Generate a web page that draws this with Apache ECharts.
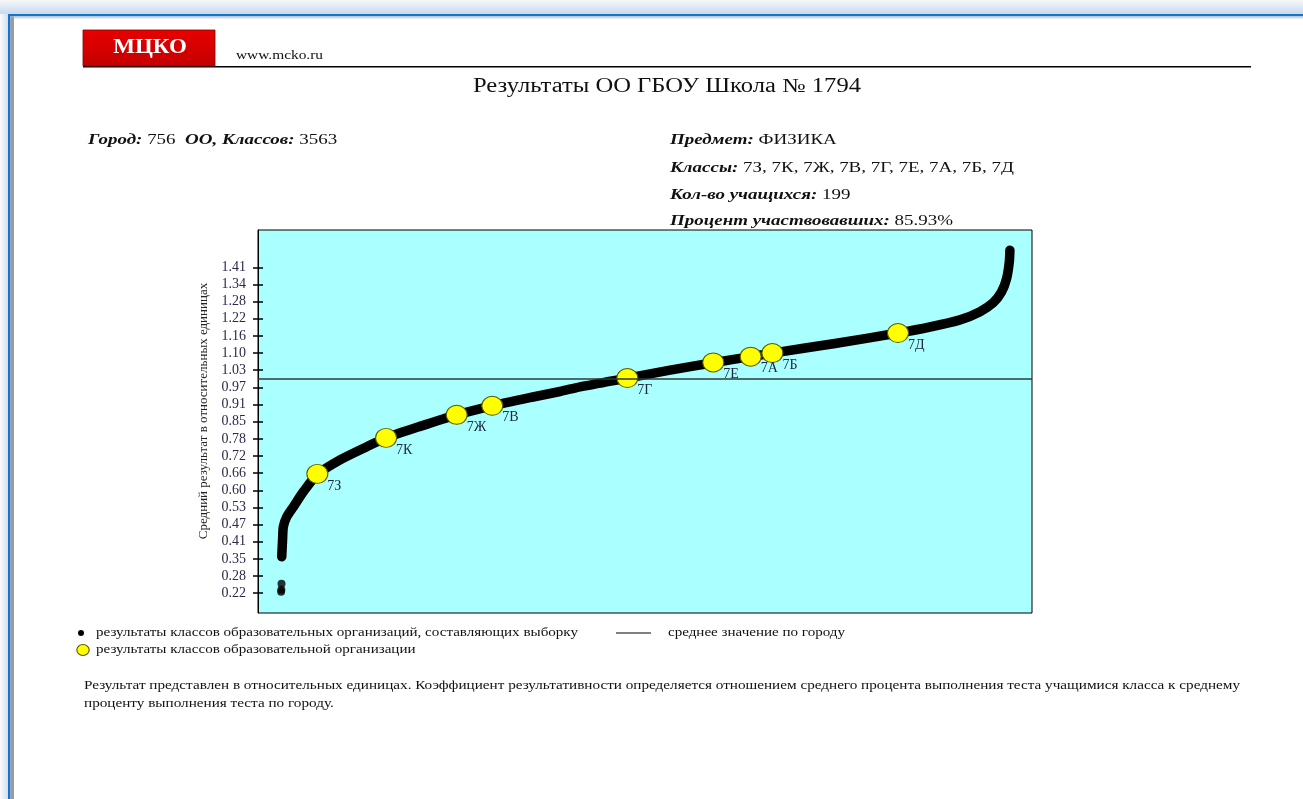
<!DOCTYPE html>
<html><head><meta charset="utf-8">
<script src="https://cdn.jsdelivr.net/npm/echarts@6/dist/echarts.min.js"></script>
<style>html,body{margin:0;padding:0;background:#fff;overflow:hidden}#c{width:1303px;height:799px}</style>
</head><body><div id="c"></div>
<script>
// ---- data ----
const yTickLabels = ['0.22','0.28','0.35','0.41','0.47','0.53','0.60','0.66','0.72','0.78','0.85','0.91','0.97','1.03','1.10','1.16','1.22','1.28','1.34','1.41'];
const yTickStart = 0.22;
const yTickStep = 0.0625;
// city classes, sorted by result (rank of class, relative result)
const curveRank  = [4, 8, 12, 29, 61, 110, 178, 289, 420, 514, 680, 859, 1033, 1232, 1364, 1462, 1693, 1902, 2113, 2296, 2402, 2708, 3016, 3172, 3319, 3417, 3481, 3522, 3547, 3560, 3563];
const curveValue = [0.353, 0.414, 0.463, 0.499, 0.535, 0.590, 0.653, 0.706, 0.754, 0.786, 0.828, 0.870, 0.903, 0.935, 0.955, 0.972, 1.004, 1.033, 1.060, 1.082, 1.095, 1.130, 1.168, 1.190, 1.216, 1.246, 1.278, 1.318, 1.367, 1.427, 1.470];
const outlierRank  = [1, 2, 3];
const outlierValue = [0.225, 0.233, 0.255];
// classes of the school
const schoolClasses = ['7З','7К','7Ж','7В','7Г','7Е','7А','7Б','7Д'];
const schoolRank    = [178, 514, 859, 1033, 1693, 2113, 2296, 2402, 3016];
const schoolValue   = [0.655, 0.786, 0.870, 0.903, 1.004, 1.061, 1.082, 1.095, 1.168];
const cityMean = 1.0;

// ---- helpers ----
const SERIF = '"Liberation Serif", "Times New Roman", serif';
const yTickValues = yTickLabels.map((_, i) => yTickStart + i * yTickStep);
const mctx = document.createElement('canvas').getContext('2d');
function fontStr(size, bi) { return (bi ? 'italic bold ' : '') + size + 'px ' + SERIF; }
function measure(segs, size) {
  let w = 0;
  segs.forEach(s => { mctx.font = fontStr(size, s[1]); w += mctx.measureText(s[0]).width; });
  return w;
}
function richText(segs) {
  return segs.map(s => s[1] ? '{b|' + s[0] + '}' : '{n|' + s[0] + '}').join('');
}
function txt(segs, x, y, size, scale, align, color) {
  return {
    type: 'text', x: x, y: y, scaleX: scale, z: 10,
    style: {
      text: richText(segs), align: align || 'left', verticalAlign: 'middle',
      fill: color || '#111', fontFamily: SERIF, fontSize: size,
      rich: {
        b: { fontFamily: SERIF, fontSize: size, fontStyle: 'italic', fontWeight: 'bold', fill: color || '#111' },
        n: { fontFamily: SERIF, fontSize: size, fill: color || '#111' }
      }
    }
  };
}

// header texts
const H = 15;
const hdrKlassy = [['Классы:', 1], [' 7З, 7К, 7Ж, 7В, 7Г, 7Е, 7А, 7Б, 7Д', 0]];
const hScale = 344 / measure(hdrKlassy, H);
const titleSegs = [['Результаты ОО ГБОУ Школа № 1794', 0]];
const tScale = 388 / measure(titleSegs, 20);
const leg1 = [['результаты классов образовательных организаций, составляющих выборку', 0]];
const L = 13;
const lScale = 482 / measure(leg1, L);
const foot1 = [['Результат представлен в относительных единицах. Коэффициент результативности определяется отношением среднего процента выполнения теста учащимися класса к среднему', 0]];
const fScale = 1156 / measure(foot1, L);
const www = [['www.mcko.ru', 0]];
const wScale = 87 / measure(www, 12);

const graphics = [
  // window frame
  { type: 'rect', z: 0, shape: { x: 0, y: 0, width: 1303, height: 14 },
    style: { fill: new echarts.graphic.LinearGradient(0, 0, 0, 1, [{ offset: 0, color: '#f7f7f7' }, { offset: 1, color: '#c6daef' }]) } },
  { type: 'rect', z: 0, shape: { x: 0, y: 14, width: 8, height: 785 },
    style: { fill: new echarts.graphic.LinearGradient(0, 0, 1, 0, [{ offset: 0, color: '#fbfbfb' }, { offset: 1, color: '#cfe0f2' }]) } },
  { type: 'rect', z: 1, shape: { x: 8, y: 14, width: 1295, height: 2.5 }, style: { fill: '#1673c9' } },
  { type: 'rect', z: 1, shape: { x: 8, y: 14, width: 2.5, height: 785 }, style: { fill: '#1673c9' } },
  { type: 'rect', z: 1, shape: { x: 10.5, y: 16.5, width: 1293, height: 2 }, style: { fill: '#d8d8d8' } },
  { type: 'rect', z: 1, shape: { x: 10.5, y: 16.5, width: 3.5, height: 783 }, style: { fill: '#9c9c9c' } },
  // header
  { type: 'rect', z: 2, shape: { x: 83, y: 66, width: 1168, height: 1.5 }, style: { fill: '#000' } },
  { type: 'rect', z: 3, shape: { x: 83, y: 30, width: 132, height: 36 },
    style: { fill: new echarts.graphic.LinearGradient(0, 0, 0, 1, [{ offset: 0, color: '#e80000' }, { offset: 1, color: '#c40000' }]), stroke: '#8a0000', lineWidth: 0.8 } },
  { type: 'text', x: 150, y: 48, z: 10, scaleX: 1.15,
    style: { text: 'МЦКО', align: 'center', verticalAlign: 'middle', fill: '#fff', fontFamily: SERIF, fontSize: 20, fontWeight: 'bold' } },
  txt(www, 236, 56, 12, wScale, 'left', '#111'),
  txt(titleSegs, 667, 87, 20, tScale, 'center', '#111'),
  txt([['Город:', 1], [' 756  ', 0], ['ОО, Классов:', 1], [' 3563', 0]], 88, 140, H, hScale),
  txt([['Предмет:', 1], [' ФИЗИКА', 0]], 670, 140, H, hScale),
  txt(hdrKlassy, 670, 168, H, hScale),
  txt([['Кол-во учащихся:', 1], [' 199', 0]], 670, 195, H, hScale),
  txt([['Процент участвовавших:', 1], [' 85.93%', 0]], 670, 221, H, hScale),
  // y-axis title
  { type: 'text', x: 204, y: 411, rotation: Math.PI / 2, z: 10,
    style: { text: 'Средний результат в относительных единицах', align: 'center', verticalAlign: 'middle', fill: '#222', fontFamily: SERIF, fontSize: 13 } },
  // legend
  { type: 'circle', z: 10, shape: { cx: 81, cy: 633, r: 3 }, style: { fill: '#000' } },
  txt(leg1, 96, 633, L, lScale),
  { type: 'line', z: 10, shape: { x1: 616, y1: 633, x2: 651, y2: 633 }, style: { stroke: '#000', lineWidth: 1 } },
  txt([['среднее значение по городу', 0]], 668, 633, L, lScale),
  { type: 'circle', z: 10, x: 83, y: 650, scaleX: 1.12, shape: { cx: 0, cy: 0, r: 5.5 }, style: { fill: '#ffff00', stroke: '#555500', lineWidth: 1 } },
  txt([['результаты классов образовательной организации', 0]], 96, 650, L, lScale),
  // footer
  txt(foot1, 84, 686, L, fScale),
  txt([['проценту выполнения теста по городу.', 0]], 84, 704, L, fScale)
];

const yMin = 0.148, yMax = 1.5435;
const chart = echarts.init(document.getElementById('c'), null, { renderer: 'canvas' });
chart.setOption({
  animation: false,
  backgroundColor: '#ffffff',
  graphic: graphics,
  grid: { left: 258, top: 230, width: 774, height: 383, show: true, backgroundColor: '#aaffff', borderColor: '#000', borderWidth: 1 },
  xAxis: { type: 'value', min: -112, max: 3671, show: false },
  yAxis: [
    { type: 'value', min: yMin, max: yMax, position: 'left',
      axisLine: { show: true, onZero: false, lineStyle: { color: '#000', width: 1 } },
      splitLine: { show: false },
      axisTick: { show: true, length: 5, customValues: yTickValues, lineStyle: { color: '#000', width: 1.5 } },
      axisLabel: { show: true, customValues: yTickValues, margin: 12, fontFamily: SERIF, fontSize: 14, color: '#2a2a48',
        formatter: v => yTickLabels[Math.round((v - yTickStart) / yTickStep)] } },
    { type: 'value', min: yMin, max: yMax, position: 'left',
      axisLine: { show: false, onZero: false }, splitLine: { show: false }, axisLabel: { show: false },
      axisTick: { show: true, inside: true, length: 5, customValues: yTickValues, lineStyle: { color: '#000', width: 1.5 } } }
  ],
  series: [
    { type: 'line', name: 'среднее значение по городу', data: [], z: 1,
      markLine: { silent: true, symbol: ['none', 'none'], label: { show: false },
        lineStyle: { color: '#2d3b3b', width: 1.5, type: 'solid' }, data: [{ yAxis: cityMean }] } },
    { type: 'line', name: 'выборка', z: 2, showSymbol: false, smooth: 0.25,
      data: curveRank.map((r, i) => [r, curveValue[i]]),
      lineStyle: { color: '#000', width: 9.5, cap: 'round', join: 'round' } },
    { type: 'scatter', name: 'выборка (низкие)', z: 2, symbolSize: 8,
      data: outlierRank.map((r, i) => [r, outlierValue[i]]), itemStyle: { color: '#000' } },
    { type: 'scatter', name: 'классы ОО', z: 3, symbol: 'circle', symbolSize: [21, 19],
      data: schoolRank.map((r, i) => [r, schoolValue[i]]),
      itemStyle: { color: '#ffff00', borderColor: '#5a5a00', borderWidth: 1, opacity: 1 },
      label: { show: true, position: 'right', distance: 0, offset: [-1, 12], fontFamily: SERIF, fontSize: 14, color: '#1d2545',
        formatter: p => schoolClasses[p.dataIndex] } }
  ]
});
</script>
</body></html>
